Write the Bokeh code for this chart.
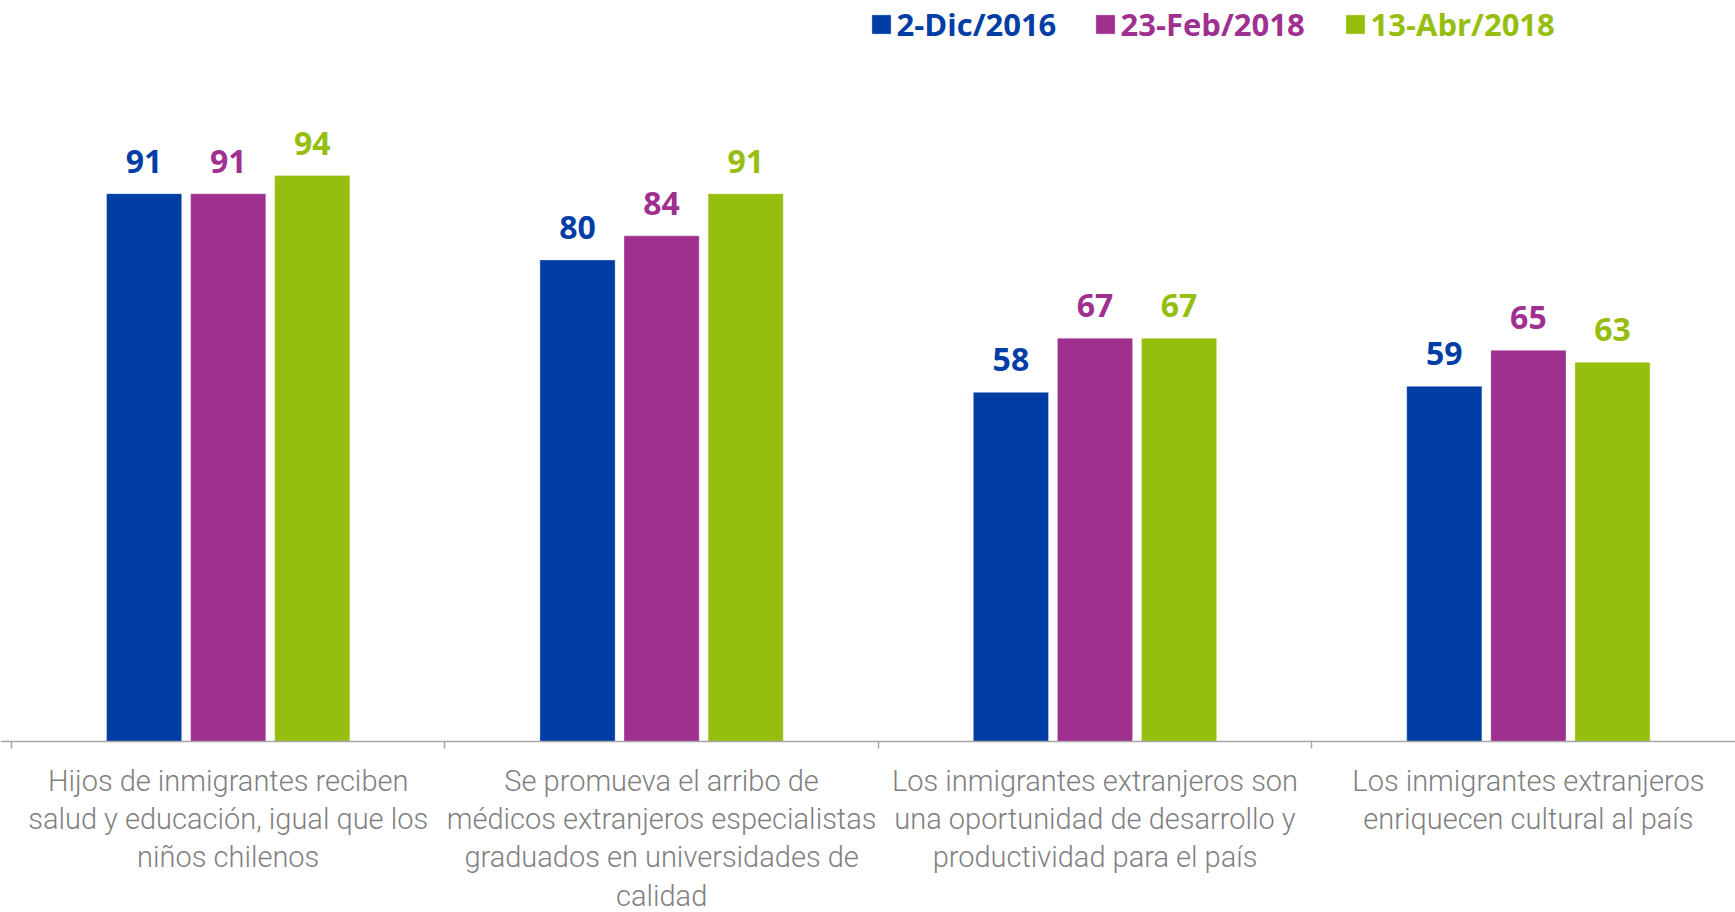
from bokeh.plotting import figure
from bokeh.models import ColumnDataSource, FixedTicker, LabelSet, Legend, LegendItem, Range1d
from bokeh.embed import file_html
from bokeh.resources import INLINE
from bokeh.core.properties import value

# ---- data ----
categories = [
    "Hijos de inmigrantes reciben\nsalud y educación, igual que los\nniños chilenos",
    "Se promueva el arribo de\nmédicos extranjeros especialistas\ngraduados en universidades de\ncalidad",
    "Los inmigrantes extranjeros son\nuna oportunidad de desarrollo y\nproductividad para el país",
    "Los inmigrantes extranjeros\nenriquecen cultural al país",
]
series_names = ["2-Dic/2016", "23-Feb/2018", "13-Abr/2018"]
dic_2016 = [91, 80, 58, 59]
feb_2018 = [91, 84, 67, 65]
abr_2018 = [94, 91, 67, 63]
series_values = [dic_2016, feb_2018, abr_2018]
colors = ["#003DA5", "#A0308F", "#96BE0F"]

# ---- layout ----
W, H = 1735, 912
PX_X = 216.7      # pixels per x unit (2 units per category)
PX_Y = 6.02       # pixels per percentage point
X0 = 11           # canvas x of x=0
Y0 = 741          # canvas y of y=0

p = figure(width=W, height=H, output_backend="svg", toolbar_location=None,
           x_range=Range1d(-X0 / PX_X, (W - X0) / PX_X),
           y_range=Range1d(-(H - Y0) / PX_Y, Y0 / PX_Y),
           min_border=0, background_fill_color="white", border_fill_color="white")
p.outline_line_color = None
p.grid.visible = False
p.yaxis.visible = False

xs = [2 * i + 1 for i in range(len(categories))]
bounds = [2 * i for i in range(len(categories) + 1)]
offsets = [-0.388, 0.0, 0.388]
bar_w = 0.347

renderers = []
for name, vals, col, off in zip(series_names, series_values, colors, offsets):
    xpos = [x + off for x in xs]
    src = ColumnDataSource(dict(x=xpos, top=vals, label=[str(v) for v in vals]))
    r = p.vbar(x="x", top="top", bottom=0, width=bar_w, source=src,
               fill_color=col, line_color="white", line_alpha=0.35, line_width=1)
    renderers.append(r)
    lbl = LabelSet(x="x", y="top", text="label", source=src, y_offset=21,
                   text_align="center", text_baseline="alphabetic",
                   text_font=value("Open Sans"), text_font_style="bold",
                   text_font_size="32px", text_color=col)
    p.add_layout(lbl)

ax = p.xaxis[0]
ax.fixed_location = 0
ax.ticker = FixedTicker(ticks=xs, minor_ticks=bounds)
ax.major_label_overrides = {x: c for x, c in zip(xs, categories)}
ax.axis_line_color = "#A6A6A6"
ax.axis_line_width = 1.5
ax.major_tick_line_color = None
ax.major_tick_out = 0
ax.major_tick_in = 0
ax.minor_tick_line_color = "#A6A6A6"
ax.minor_tick_line_width = 1.5
ax.minor_tick_out = 7
ax.minor_tick_in = 0
ax.major_label_standoff = 15
ax.major_label_text_font = "'Roboto Light', Roboto"
ax.major_label_text_font_size = "29px"
ax.major_label_text_color = "#7F7F7F"
ax.major_label_text_line_height = 1.13

for name, r, col, vx in zip(series_names, renderers, colors, [868.6, 1092.6, 1342.6]):
    leg = Legend(items=[LegendItem(label=name, renderers=[r])], location=(vx, 867),
                 orientation="horizontal", border_line_color=None,
                 background_fill_alpha=0, padding=0, margin=0,
                 glyph_width=24, glyph_height=24, label_standoff=4,
                 label_text_font="Open Sans", label_text_font_style="bold",
                 label_text_font_size="31px", label_text_color=col)
    p.add_layout(leg)

open("out.html", "w").write(file_html(p, INLINE))
